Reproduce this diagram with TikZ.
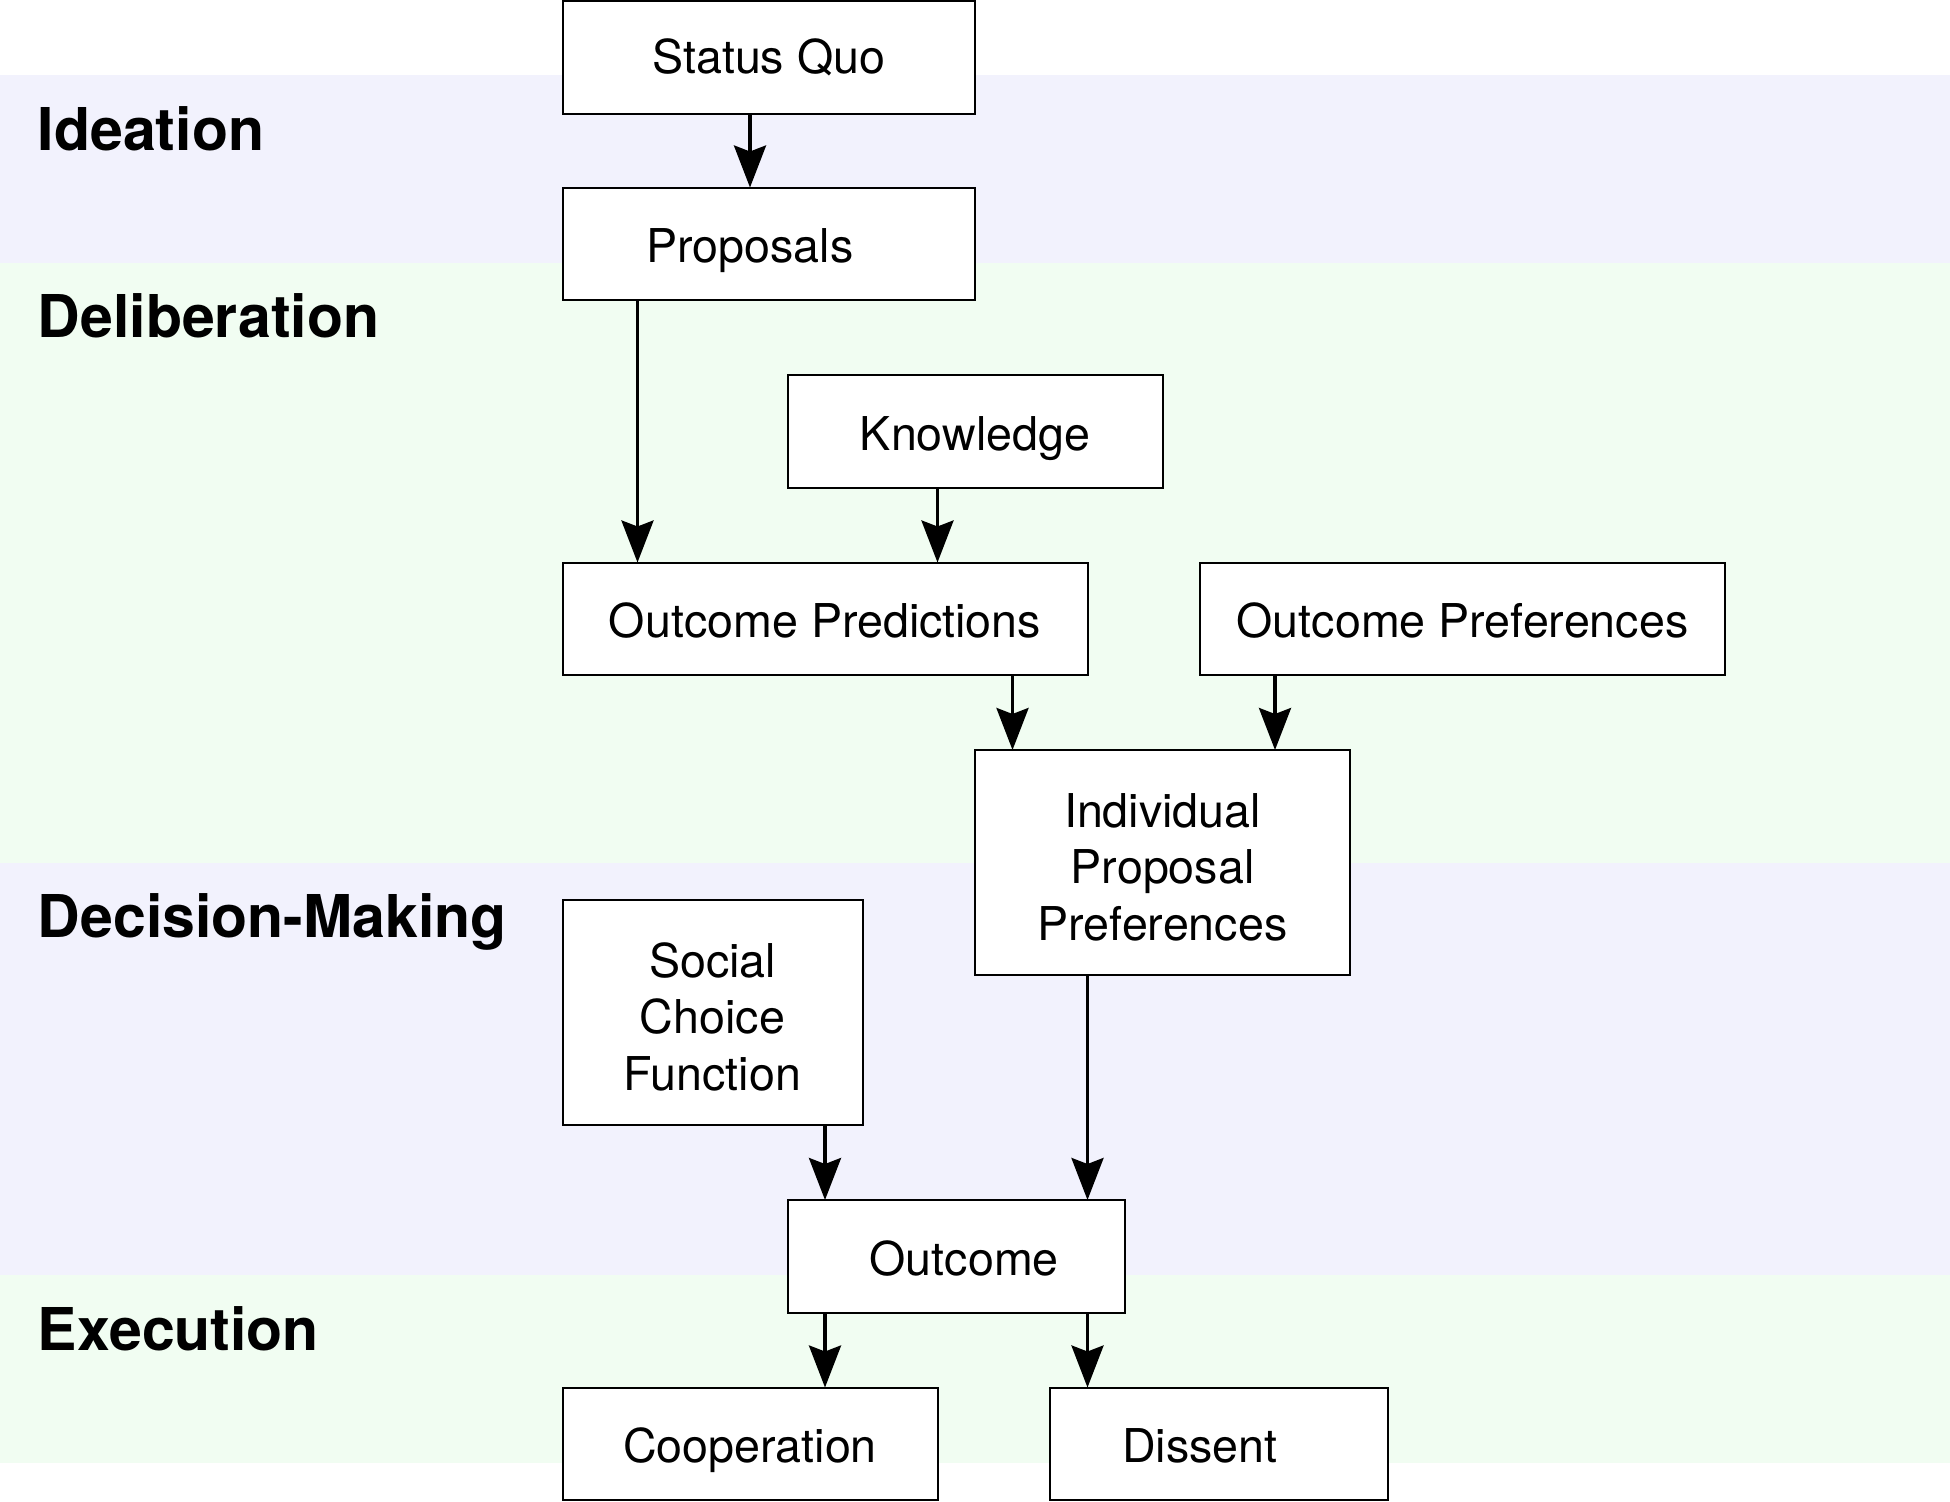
\documentclass[tikz,border=0pt]{standalone}
\usepackage{fontspec}
\setmainfont{TeX Gyre Heros}
\usetikzlibrary{arrows.meta}
\definecolor{lav}{RGB}{242,242,253}
\definecolor{mint}{RGB}{241,253,242}
\newcommand{\firststrut}{\rule{0pt}{21.8pt}}
\begin{document}
\begin{tikzpicture}[x=18.75pt,y=-18.75pt,
  box/.style={draw, fill=white, line width=1pt, rectangle, inner sep=0pt, outer sep=0pt,
    anchor=north west, font=\fontsize{23.3}{28.3}\selectfont, align=center},
  single/.style={text height=19pt, text depth=0pt},
  bx/.style 2 args={box, minimum width=#1*18.75pt, minimum height=#2*18.75pt},
  phase/.style={anchor=base west, inner sep=0pt, font=\fontsize{29.5}{34}\selectfont\bfseries},
  arr/.style={line width=1.75pt, -{Stealth[length=21pt, width=16pt, inset=3pt]}}]
\useasboundingbox (0,0) rectangle (52,40.053);
% bands
\fill[lav]  (0,2)  rectangle (52,7);
\fill[mint] (0,7)  rectangle (52,23);
\fill[lav]  (0,23) rectangle (52,34);
\fill[mint] (0,34) rectangle (52,39);
% phase labels
\node[phase] (lid)  at (1,4)  {Ideation};
\node[phase] (ldel) at (1,9)  {Deliberation};
\node[phase] (ldec) at (1,25) {Decision-Making};
\node[phase] (lexe) at (1,36) {Execution};
% boxes
\node[bx={11}{3}, single, text height=16.5pt] (sq) at (15,0.03) {Status Quo};
\node[bx={11}{3}, single] (prop)  at (15,5)  {Proposals\kern18.75pt};
\node[bx={10}{3}, single] (kn)    at (21,10) {Knowledge};
\node[bx={14}{3}, single] (op)    at (15,15) {Outcome Predictions};
\node[bx={14}{3}, single] (opref) at (32,15) {Outcome Preferences};
\node[bx={10}{6}] (ipp) at (26,20) {\firststrut Individual\\Proposal\\Preferences};
\node[bx={8}{6}]  (scf) at (15,24) {\firststrut Social\\Choice\\Function};
\node[bx={9}{3}, single]  (out)   at (21,32) {\kern8pt Outcome};
\node[bx={10}{3}, single] (coop)  at (15,37) {Cooperation};
\node[bx={9}{3}, single]  (dis)   at (28,37) {Dissent\kern18.75pt};
% connectors
\draw[arr] ([xshift=5*18.75pt]sq.south west)    -- ([xshift=5*18.75pt]prop.north west);
\draw[arr] ([xshift=2*18.75pt]prop.south west)  -- ([xshift=2*18.75pt]op.north west);
\draw[arr] ([xshift=4*18.75pt]kn.south west)    -- ([xshift=10*18.75pt]op.north west);
\draw[arr] ([xshift=12*18.75pt]op.south west)   -- ([xshift=1*18.75pt]ipp.north west);
\draw[arr] ([xshift=2*18.75pt]opref.south west) -- ([xshift=8*18.75pt]ipp.north west);
\draw[arr] ([xshift=7*18.75pt]scf.south west)   -- ([xshift=1*18.75pt]out.north west);
\draw[arr] ([xshift=3*18.75pt]ipp.south west)   -- ([xshift=8*18.75pt]out.north west);
\draw[arr] ([xshift=1*18.75pt]out.south west)   -- ([xshift=7*18.75pt]coop.north west);
\draw[arr] ([xshift=8*18.75pt]out.south west)   -- ([xshift=1*18.75pt]dis.north west);
\end{tikzpicture}
\end{document}
